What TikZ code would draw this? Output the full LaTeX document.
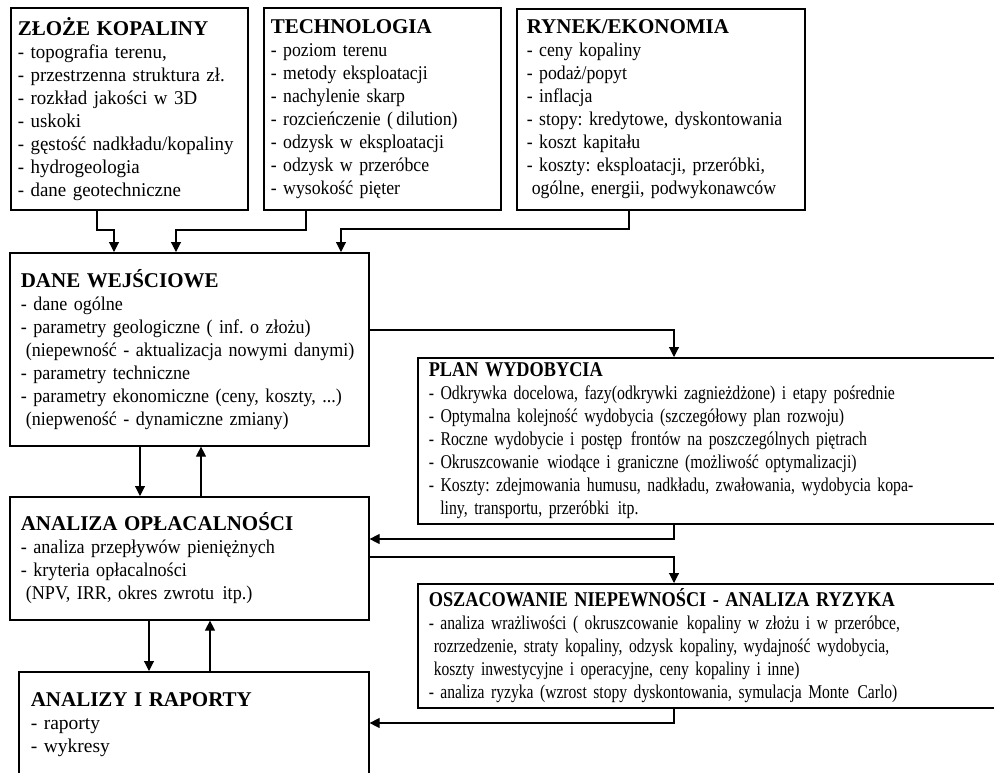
\documentclass[tikz,border=0pt]{standalone}
\usepackage{fontspec}
\setmainfont{Liberation Serif}
\newfontfamily\fZ[FakeStretch=0.97]{Liberation Serif}
\newfontfamily\fT[FakeStretch=0.91]{Liberation Serif}
\newfontfamily\fR[FakeStretch=0.91]{Liberation Serif}
\newfontfamily\fD[FakeStretch=0.925]{Liberation Serif}
\newfontfamily\fO[FakeStretch=0.93]{Liberation Serif}
\newfontfamily\fP[FakeStretch=0.81]{Liberation Serif}
\newfontfamily\fK[FakeStretch=0.80]{Liberation Serif}
\newfontfamily\fH[FakeStretch=0.87]{Liberation Serif}
\usetikzlibrary{arrows.meta}
\tikzset{
  box/.style={draw, line width=1.6pt, anchor=north west, align=left, inner xsep=12pt, inner ysep=3pt, font=#1\fontsize{19.5}{23}\selectfont},
  box/.default=\rmfamily,
  arrow/.style={-{Triangle[length=10pt,width=10pt]}, line width=1.1pt}
}
\newcommand{\hd}[1]{{\rmfamily\fontsize{21}{23}\selectfont\bfseries #1}}
\newcommand{\hdc}[1]{{\fH\fontsize{21}{23}\selectfont\bfseries #1}}
\newcommand{\ind}{\hspace*{5pt}}
\newcommand{\gap}{\kern2pt\ }
\frenchspacing
\begin{document}
\begin{tikzpicture}[x=1pt,y=-1pt]
  \useasboundingbox (0,0) rectangle (994,772);
  \clip (0,0) rectangle (994,772);
  \node[box=\fZ, inner xsep=7pt, text width=223pt, minimum height=202pt] (zloze) at (10,7) {\hd{ZŁOŻE KOPALINY}\\- topografia terenu,\\- przestrzenna struktura zł.\\- rozkład jakości w 3D\\- uskoki\\- gęstość nadkładu/kopaliny\\- hydrogeologia\\- dane geotechniczne};
  \node[box=\fT, inner xsep=7pt, text width=223pt, minimum height=202pt] (techn) at (263,7) {\hd{TECHNOLOGIA}\\- poziom terenu\\- metody eksploatacji\\- nachylenie skarp\\- rozcieńczenie (\,dilution)\\- odzysk w eksploatacji\\- odzysk w przeróbce\\- wysokość pięter};
  \node[box=\fR, inner xsep=10pt, text width=268pt, minimum height=201pt] (rynek) at (516,8) {\hd{RYNEK/EKONOMIA}\\- ceny kopaliny\\- podaż/popyt\\- inflacja\\- stopy: kredytowe, dyskontowania\\- koszt kapitału\\- koszty: eksploatacji, przeróbki,\\\ind ogólne, energii, podwykonawców};
  \node[box=\fD, inner xsep=11pt, text width=337pt, minimum height=193pt] (dane) at (9,252) {\hd{DANE WEJŚCIOWE}\\- dane ogólne\\- parametry geologiczne ( inf. o złożu)\\\ind(niepewność - aktualizacja nowymi danymi)\\- parametry techniczne\\- parametry ekonomiczne (ceny, koszty, ...)\\\ind(niepweność - dynamiczne zmiany)};
  \node[box=\fP, inner xsep=11pt, text width=568pt, minimum height=166pt] (plan) at (417,357) {\hdc{PLAN WYDOBYCIA}\\- Odkrywka docelowa, fazy(odkrywki zagnieżdżone) i etapy pośrednie\\- Optymalna kolejność wydobycia (szczegółowy plan rozwoju)\\- Roczne wydobycie i postęp\gap frontów na poszczególnych piętrach\\- Okruszcowanie\gap wiodące i graniczne (możliwość optymalizacji)\\- Koszty: zdejmowania humusu, nadkładu, zwałowania, wydobycia kopa-\\\ind\ liny, transportu, przeróbki\gap itp.};
  \node[box=\fO, inner xsep=11pt, text width=337pt, minimum height=123pt] (oplac) at (9,496) {\hd{ANALIZA OPŁACALNOŚCI}\\- analiza przepływów pieniężnych\\- kryteria opłacalności\\\ind(NPV, IRR, okres zwrotu\gap itp.)};
  \node[box=\fK, inner xsep=11pt, text width=568pt, minimum height=124pt] (ryzyko) at (417,583) {\hdc{OSZACOWANIE NIEPEWNOŚCI - ANALIZA RYZYKA}\\- analiza wrażliwości ( okruszcowanie\gap kopaliny w złożu i w przeróbce,\\\ind rozrzedzenie, straty kopaliny, odzysk kopaliny, wydajność wydobycia,\\\ind koszty inwestycyjne i operacyjne, ceny kopaliny i inne)\\- analiza ryzyka (wzrost stopy dyskontowania, symulacja Monte\gap Carlo)};
  \node[box, text width=326pt, minimum height=106pt] (raporty) at (18,671) {\hd{ANALIZY I RAPORTY}\\- raporty\\- wykresy};
  \draw[arrow] (zloze.south -| 97,0) |- (114,230) -- (dane.north -| 114,0);
  \draw[arrow] (techn.south -| 306,0) |- (176,230) -- (dane.north -| 176,0);
  \draw[arrow] (rynek.south -| 629,0) |- (341,229) -- (dane.north -| 341,0);
  \draw[arrow] (dane.east |- 0,330) -| (plan.north -| 674,0);
  \draw[arrow] (plan.south -| 674,0) |- (oplac.east |- 0,539);
  \draw[arrow] (oplac.east |- 0,557) -| (ryzyko.north -| 674,0);
  \draw[arrow] (ryzyko.south -| 674,0) |- (raporty.east |- 0,723);
  \draw[arrow] (dane.south -| 140,0) -- (oplac.north -| 140,0);
  \draw[arrow] (oplac.north -| 201,0) -- (dane.south -| 201,0);
  \draw[arrow] (oplac.south -| 149,0) -- (raporty.north -| 149,0);
  \draw[arrow] (raporty.north -| 210,0) -- (oplac.south -| 210,0);
\end{tikzpicture}
\end{document}
